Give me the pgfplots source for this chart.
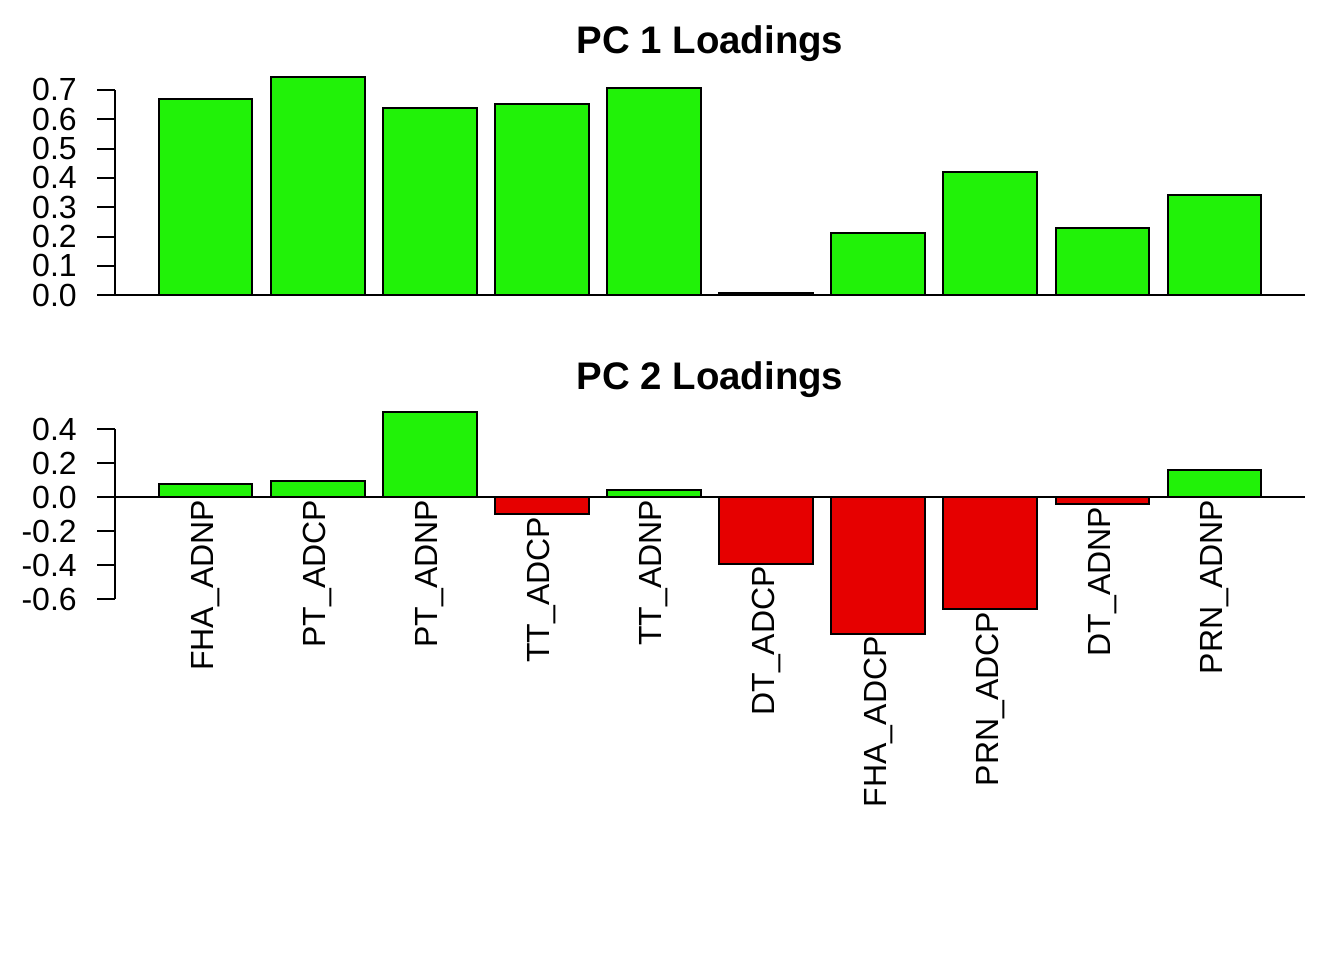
\documentclass[border=0pt]{standalone}
\usepackage{pgfplots}
\pgfplotsset{compat=1.18}
\usepackage{fontspec}
\setmainfont{Liberation Sans}
\definecolor{rgreen}{RGB}{33,242,8}
\definecolor{rred}{RGB}{230,0,0}
\pgfplotsset{
  rbase/.style={
    scale only axis, width=446.25pt, height=90pt,
    xmin=-0.272, xmax=12.472, clip=false,
    axis line style={draw=none},
    xtick=\empty, ytick pos=left, tick align=outside,
    major tick length=6.75pt,
    tick style={black, line width=0.75pt},
    /pgf/number format/assume math mode=true,
    /pgf/number format/fixed, /pgf/number format/fixed zerofill,
    /pgf/number format/precision=1,
    yticklabel style={font=\fontsize{12}{14}\selectfont, inner sep=0pt, anchor=east, xshift=-7.4pt},
    title style={font=\bfseries\fontsize{14.4}{17}\selectfont, at={(0.5,1)}, anchor=base, yshift=-0.75pt},
  },
  rbar/.style={ybar, bar width=1, bar shift=0pt, draw=black, line width=0.75pt},
}
\begin{document}
\begin{tikzpicture}
\path[use as bounding box] (0pt,0pt) rectangle (504pt,-360pt);
% PC 1
\begin{axis}[rbase, at={(43.125pt,-115.125pt)}, anchor=south west,
  ymin=-0.0398, ymax=0.7776,
  ytick={0,0.1,0.2,0.3,0.4,0.5,0.6,0.7},
  title={PC 1 Loadings}]
\addplot[black, line width=0.75pt, mark=none] coordinates {(-0.272,0) (12.472,0)};
\addplot[black, line width=0.75pt, mark=none] coordinates {(-0.272,0) (-0.272,0.7)};
\addplot[rbar, fill=rgreen] coordinates {
(0.7,0.667) (1.9,0.745) (3.1,0.639) (4.3,0.651) (5.5,0.705)
(6.7,0.007) (7.9,0.213) (9.1,0.420) (10.3,0.229) (11.5,0.340)};
\end{axis}
% PC 2
\begin{axis}[rbase, at={(43.125pt,-241.125pt)}, anchor=south west,
  ymin=-0.857, ymax=0.5547,
  ytick={-0.6,-0.4,-0.2,0,0.2,0.4},
  title={PC 2 Loadings}]
\addplot[black, line width=0.75pt, mark=none] coordinates {(-0.272,0) (12.472,0)};
\addplot[black, line width=0.75pt, mark=none] coordinates {(-0.272,-0.6) (-0.272,0.4)};
\addplot[rbar, fill=rgreen] coordinates {
(0.7,0.078) (1.9,0.096) (3.1,0.500) (5.5,0.042) (11.5,0.160)};
\addplot[rbar, fill=rred] coordinates {
(4.3,-0.100) (6.7,-0.390) (7.9,-0.802) (9.1,-0.659) (10.3,-0.041)};
\addplot[draw=none, mark=none, nodes near coords, point meta=explicit symbolic,
  every node near coord/.style={rotate=90, anchor=east, inner sep=0.8pt, font=\fontsize{12}{14}\selectfont, black}]
  coordinates {
(0.7,0)[FHA\_ADNP] (1.9,0)[PT\_ADCP] (3.1,0)[PT\_ADNP] (4.3,-0.100)[TT\_ADCP]
(5.5,0)[TT\_ADNP] (6.7,-0.390)[DT\_ADCP] (7.9,-0.802)[FHA\_ADCP]
(9.1,-0.659)[PRN\_ADCP] (10.3,-0.041)[DT\_ADNP] (11.5,0)[PRN\_ADNP]};
\end{axis}
\end{tikzpicture}
\end{document}
